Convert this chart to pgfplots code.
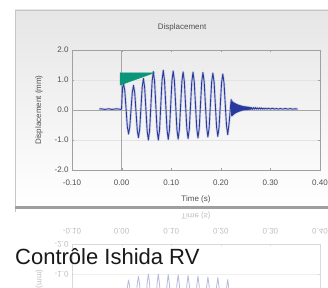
\documentclass[border=0pt]{standalone}
\usepackage{pgfplots}
\usepackage{pgfplotstable}
\pgfplotsset{compat=1.18}
\usepackage{fontspec}
\setmainfont{Liberation Sans}
\definecolor{wave}{RGB}{40,58,158}
\definecolor{tri}{RGB}{10,150,120}
\definecolor{axgray}{RGB}{160,160,160}
\definecolor{txt}{RGB}{80,80,80}

\pgfplotstableread{
t v
-0.045 0.03
-0.040 0.04
-0.035 0.02
-0.030 0.03
-0.025 0.04
-0.020 0.02
-0.015 0.03
-0.010 0.04
-0.005 0.03
-0.001 0.02
0.000 0.05
0.001 0.45
0.002 0.75
0.004 0.88
0.0065 0.63
0.009 0.04
0.0115 -0.55
0.014 -0.80
0.0165 -0.56
0.019 0.01
0.0215 0.58
0.024 0.82
0.0265 0.57
0.029 -0.05
0.0315 -0.67
0.034 -0.92
0.0365 -0.63
0.039 0.07
0.0415 0.76
0.044 1.05
0.0465 0.75
0.049 0.03
0.0515 -0.70
0.054 -1.00
0.0565 -0.67
0.059 0.14
0.0615 0.95
0.064 1.28
0.0665 0.95
0.069 0.14
0.0715 -0.67
0.074 -1.00
0.0765 -0.66
0.079 0.16
0.0815 0.98
0.084 1.32
0.0865 0.98
0.089 0.17
0.0915 -0.64
0.094 -0.98
0.0965 -0.65
0.099 0.16
0.1015 0.97
0.104 1.30
0.1065 0.97
0.109 0.17
0.1115 -0.64
0.114 -0.97
0.1165 -0.64
0.119 0.15
0.1215 0.94
0.124 1.27
0.1265 0.94
0.129 0.16
0.1315 -0.62
0.134 -0.95
0.1365 -0.63
0.139 0.16
0.1415 0.94
0.144 1.26
0.1465 0.93
0.149 0.17
0.1515 -0.61
0.154 -0.93
0.1565 -0.61
0.159 0.16
0.1615 0.93
0.164 1.25
0.1665 0.93
0.169 0.18
0.1715 -0.58
0.174 -0.90
0.1765 -0.59
0.179 0.17
0.1815 0.92
0.184 1.23
0.1865 0.92
0.189 0.18
0.1915 -0.57
0.194 -0.88
0.1965 -0.57
0.199 0.16
0.2015 0.90
0.204 1.20
0.2065 0.90
0.209 0.19
0.2115 -0.52
0.214 -0.82
0.217 -0.40
0.2195 0.10
0.221 0.35
0.2220 -0.20
0.2230 0.30
0.2240 -0.18
0.2250 0.26
0.2260 -0.15
0.2270 0.24
0.2280 -0.12
0.2290 0.22
0.2300 -0.10
0.2310 0.20
0.2320 -0.08
0.2330 0.19
0.2340 -0.07
0.2350 0.17
0.2360 -0.05
0.2370 0.16
0.2380 -0.04
0.2390 0.15
0.2400 -0.03
0.2410 0.14
0.2420 -0.02
0.2430 0.13
0.2440 -0.01
0.2450 0.12
0.2460 0.00
0.2470 0.12
0.2480 0.00
0.2490 0.11
0.2500 0.01
0.2510 0.11
0.2520 0.01
0.2530 0.10
0.2540 0.01
0.2550 0.10
0.2560 0.02
0.2570 0.09
0.2580 0.02
0.2590 0.09
0.2600 0.02
0.2620 0.08
0.2640 0.02
0.2660 0.08
0.2680 0.03
0.2700 0.08
0.2720 0.03
0.2740 0.07
0.2760 0.03
0.2780 0.07
0.2800 0.03
0.2820 0.07
0.2840 0.03
0.2860 0.06
0.2880 0.03
0.2900 0.06
0.2930 0.03
0.2960 0.06
0.3000 0.03
0.3040 0.06
0.3080 0.03
0.3120 0.05
0.3160 0.03
0.3200 0.05
0.3250 0.03
0.3300 0.05
0.3350 0.03
0.3400 0.045
0.3450 0.03
0.3500 0.04
0.3550 0.03
}\wavedata

\pgfplotstableread{
t v
-0.003 1.24
0.066 1.24
-0.003 0.83
}\tridata

\begin{document}
\begin{tikzpicture}[x=1pt,y=1pt]
\path[use as bounding box] (0,0) rectangle (328,288);
\clip (0,0) rectangle (328,288);
\fill[white] (0,0) rectangle (328,288);
% panel
\shade[top color={rgb,255:red,230;green,230;blue,230}, bottom color=white] (15,81) rectangle (340,278);
\draw[gray!45] (15,76) -- (15,278) -- (340,278);

% reflection
\begin{axis}[
  at={(72pt,-76pt)}, anchor=south west,
  scale only axis, width=248pt, height=120pt,
  y dir=reverse,
  xmin=-0.1, xmax=0.4, ymin=-2, ymax=2,
  xtick={-0.1,0,0.1,0.2,0.3,0.4},
  ytick={-2,-1,0,1,2},
  xticklabel pos=upper,
  ymajorgrids, grid style={gray!12},
  axis line style={gray!30},
  tick style={gray!30},
  major tick length=2pt,
  tick label style={font=\fontsize{8}{9}\selectfont, text=gray!50},
  xticklabel style={yshift=6pt},
  xticklabel={\scalebox{1}[-1]{\pgfmathprintnumber[fixed,fixed zerofill,precision=2,assume math mode=true]{\tick}}},
  yticklabel={\scalebox{1}[-1]{\pgfmathprintnumber[fixed,fixed zerofill,precision=1,assume math mode=true]{\tick}}},
  xlabel={\scalebox{1}[-1]{Time (s)}},
  ylabel={\scalebox{1}[-1]{Displacement (mm)}},
  label style={font=\fontsize{8}{9}\selectfont, text=gray!50},
  xlabel style={yshift=3pt},
  ylabel style={yshift=5pt},
]
\addplot[wave!35, line width=0.8pt, line join=round] table {\wavedata};
\end{axis}

\fill[gray!75] (15,79) rectangle (340,82);

% main chart
\begin{axis}[
  at={(72pt,118pt)}, anchor=south west,
  scale only axis, width=248pt, height=120pt,
  xmin=-0.1, xmax=0.4, ymin=-2, ymax=2,
  xtick={-0.1,0,0.1,0.2,0.3,0.4},
  ytick={-2,-1,0,1,2},
  ymajorgrids, grid style={gray!22},
  axis line style={axgray},
  tick style={axgray},
  major tick length=2pt,
  tick label style={font=\fontsize{8}{9}\selectfont, text=txt},
  /pgf/number format/assume math mode=true,
  xticklabel style={yshift=-6pt, /pgf/number format/.cd, fixed, fixed zerofill, precision=2},
  yticklabel style={/pgf/number format/.cd, fixed, fixed zerofill, precision=1},
  title={Displacement},
  title style={font=\fontsize{8}{9}\selectfont, text=txt, at={(0.444,1)}, yshift=9pt},
  xlabel={Time (s)},
  ylabel={Displacement (mm)},
  xlabel style={yshift=-4pt},
  ylabel style={yshift=5pt},
  label style={font=\fontsize{8}{9}\selectfont, text=txt},
]
\draw[gray!70] (axis cs:0,-2) -- (axis cs:0,2);
\draw[gray!70] (axis cs:-0.1,0) -- (axis cs:0.4,0);
\addplot[wave!40, line width=2.4pt, line join=round, opacity=0.5] table {\wavedata};
\addplot[wave, line width=0.9pt, line join=round] table {\wavedata};
\addplot[fill=tri, draw=tri] table {\tridata} -- cycle;
\end{axis}

\node[anchor=base west, font=\fontsize{22}{24}\selectfont, text={rgb,255:red,25;green,25;blue,25}, inner sep=0pt] at (15,23) {Contrôle Ishida RV};
\end{tikzpicture}
\end{document}
